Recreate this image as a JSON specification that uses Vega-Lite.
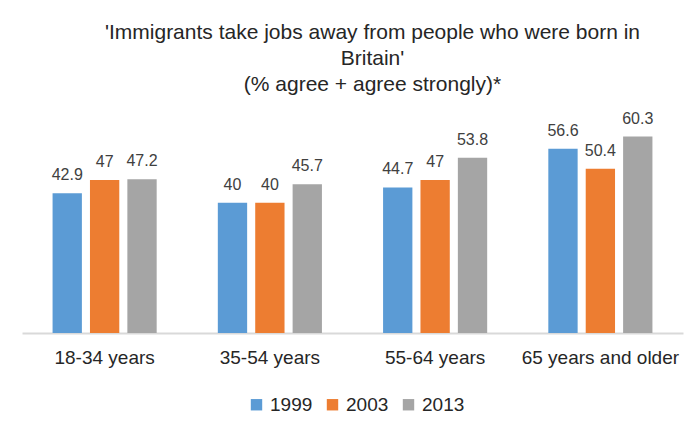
{
  "$schema": "https://vega.github.io/schema/vega-lite/v6.json",
  "width": 661,
  "height": 228,
  "autosize": "none",
  "padding": {"left": 22, "top": 105, "right": 8, "bottom": 96},
  "background": "white",
  "title": {
    "text": ["'Immigrants take jobs away from people who were born in", "Britain'", "(% agree + agree strongly)*"],
    "font": "Liberation Sans",
    "fontSize": 21,
    "fontWeight": "normal",
    "color": "#262626",
    "lineHeight": 26,
    "anchor": "middle",
    "frame": "group",
    "dx": 20,
    "offset": 10
  },
  "data": {
    "values": [
      {"age": "18-34 years", "year": "1999", "pct": 42.9},
      {"age": "18-34 years", "year": "2003", "pct": 47},
      {"age": "18-34 years", "year": "2013", "pct": 47.2},
      {"age": "35-54 years", "year": "1999", "pct": 40},
      {"age": "35-54 years", "year": "2003", "pct": 40},
      {"age": "35-54 years", "year": "2013", "pct": 45.7},
      {"age": "55-64 years", "year": "1999", "pct": 44.7},
      {"age": "55-64 years", "year": "2003", "pct": 47},
      {"age": "55-64 years", "year": "2013", "pct": 53.8},
      {"age": "65 years and older", "year": "1999", "pct": 56.6},
      {"age": "65 years and older", "year": "2003", "pct": 50.4},
      {"age": "65 years and older", "year": "2013", "pct": 60.3}
    ]
  },
  "encoding": {
    "x": {
      "field": "age", "type": "nominal", "sort": null, "title": null,
      "scale": {"paddingInner": 0.37, "paddingOuter": 0.185},
      "axis": {
        "labelAngle": 0, "labelFont": "Liberation Sans", "labelFontSize": 19, "labelColor": "#262626",
        "labelPadding": 15, "ticks": false, "domainColor": "#D9D9D9", "domainWidth": 2
      }
    },
    "xOffset": {
      "field": "year", "type": "nominal",
      "scale": {"paddingInner": 0.216, "paddingOuter": 0}
    },
    "y": {
      "field": "pct", "type": "quantitative",
      "scale": {"domain": [0, 70]},
      "axis": null
    }
  },
  "layer": [
    {
      "mark": {"type": "bar"},
      "encoding": {
        "color": {
          "field": "year", "type": "nominal",
          "scale": {"domain": ["1999", "2003", "2013"], "range": ["#5B9BD5", "#ED7D31", "#A5A5A5"]},
          "legend": {
            "title": null, "orient": "none", "direction": "horizontal",
            "legendX": 225, "legendY": 290,
            "symbolType": "square", "symbolSize": 130, "symbolStrokeWidth": 0,
            "labelFont": "Liberation Sans", "labelFontSize": 19, "labelColor": "#262626",
            "columnPadding": 10, "labelOffset": 4
          }
        }
      }
    },
    {
      "mark": {"type": "text", "dy": -10, "baseline": "bottom", "font": "Liberation Sans", "fontSize": 16, "color": "#404040"},
      "encoding": {
        "text": {"field": "pct", "type": "quantitative"}
      }
    }
  ],
  "config": {"view": {"stroke": null}}
}
